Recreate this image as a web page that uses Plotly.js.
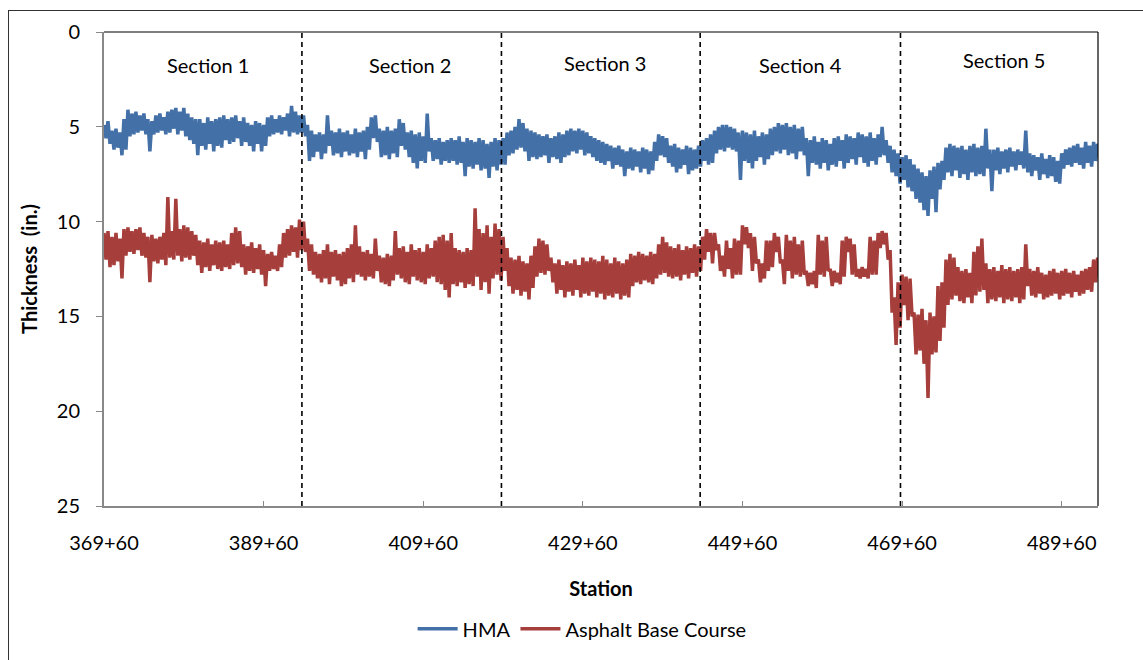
<!DOCTYPE html>
<html>
<head>
<meta charset="utf-8">
<script src="https://cdn.plot.ly/plotly-3.0.1.min.js"></script>
<style>
  html, body { margin: 0; padding: 0; background: #fff; }
  #wrap { position: relative; width: 1143px; height: 660px; overflow: hidden; }
  #chart { width: 1143px; height: 660px; }
  #frame { position: absolute; left: 8px; top: 10px; width: 1200px; height: 700px;
           border: 1.5px solid #333; pointer-events: none; box-sizing: border-box; }
</style>
</head>
<body>
<div id="wrap"><div id="chart"></div><div id="frame"></div></div>
<script>
// Station axis in feet (369+60 = 36960 ft). Each 50-ft step has two readings of
// the dense measured trace: the upper edge (thinner) and the lower edge (thicker).
const startStation = 36960;
const stationStep = 50;

const tickValues = [36960, 38960, 40960, 42960, 44960, 46960, 48960];
const tickLabels = ['369+60', '389+60', '409+60', '429+60', '449+60', '469+60', '489+60'];

const sectionBounds = [39440, 41940, 44430, 46940];
const sectionNames = ['Section 1', 'Section 2', 'Section 3', 'Section 4', 'Section 5'];
const sectionLabelX = [38263, 40794, 43238, 45693, 48237];
const sectionLabelY = [1.72, 1.72, 1.62, 1.72, 1.46];

// HMA thickness (in.)
const hmaUpper = [
  4.9,4.7,5.2,5.1,5.3,4.6,4.1,4.3,4.2,4.4, 4.3,4.6,4.7,4.4,4.3,4.5,4.2,4.1,4.0,4.2,
  4.0,4.3,4.5,4.6,4.6,4.8,4.5,4.7,4.6,4.5, 4.4,4.6,4.5,4.4,4.7,4.5,4.8,4.9,4.7,4.8,
  4.9,4.5,4.4,4.6,4.4,4.5,4.3,3.9,4.2,4.4,
  4.4,4.9,5.2,5.4,5.3,5.4,4.4,5.2,5.3,5.1, 5.3,5.2,5.4,5.1,5.3,5.2,5.0,4.5,4.4,5.1,
  5.2,5.0,5.2,5.1,4.6,4.8,5.3,5.2,5.4,5.3, 5.5,4.3,5.6,5.7,5.6,5.8,5.7,5.6,5.7,5.5,
  5.8,5.6,5.7,5.8,5.6,5.7,5.9,5.8,5.6,5.7,
  5.6,5.3,5.2,5.0,4.6,4.8,5.1,5.2,5.3,5.4, 5.5,5.4,5.6,5.5,5.3,5.4,5.2,5.1,5.2,5.1,
  5.2,5.3,5.5,5.6,5.7,5.8,5.9,6.0,6.1,6.0, 6.2,6.3,6.1,6.2,6.3,6.1,6.2,6.3,5.8,5.4,
  5.5,5.6,6.0,5.9,6.1,6.2,6.0,6.1,6.2,6.0,
  5.7,5.6,5.4,5.2,5.0,4.9,4.9,5.0,5.1,5.3, 5.2,5.3,5.4,5.2,5.5,5.3,5.4,5.1,5.0,4.8,
  4.9,4.8,5.0,4.9,5.1,5.0,5.6,5.7,5.5,5.8, 5.6,5.7,5.9,5.6,5.5,5.7,5.4,5.5,5.6,5.3,
  5.4,5.5,5.3,5.6,5.4,5.0,5.7,6.0,6.2,6.4,
  6.6,6.5,6.7,7.0,7.2,7.4,7.6,7.3,7.1,6.9, 6.8,6.1,5.9,6.0,6.1,6.0,6.2,6.0,5.9,6.1,
  6.0,5.1,6.2,6.2,6.1,6.3,6.2,6.1,6.3,6.2, 6.3,5.2,6.4,6.5,6.6,6.4,6.7,6.5,6.6,6.8,
  6.4,6.2,6.1,6.0,5.9,6.1,5.8,6.0,5.8,5.9
];
const hmaLower = [
  5.6,5.9,6.2,6.1,6.5,6.2,5.5,5.4,5.3,5.2, 5.4,6.3,5.4,5.3,5.2,5.4,5.3,5.1,5.4,5.2,
  5.5,5.7,5.9,6.5,6.0,6.2,5.9,6.3,6.0,6.1, 5.7,5.9,5.8,5.6,6.0,5.8,6.0,6.3,5.9,6.3,
  6.0,5.5,5.4,5.3,5.4,5.2,5.5,5.3,5.4,5.3,
  5.5,6.8,6.6,6.3,6.7,6.4,6.0,6.5,6.4,6.6, 6.3,6.5,6.4,6.6,6.3,6.7,6.2,5.6,5.8,6.6,
  6.5,6.7,6.4,6.6,6.0,6.2,6.6,6.9,7.2,6.8, 6.9,6.3,6.8,6.7,7.0,6.8,6.9,6.8,7.0,6.9,
  7.6,7.1,7.2,7.0,7.3,7.2,7.7,7.1,7.3,7.0,
  7.0,6.5,6.4,6.2,6.1,6.3,6.8,6.6,6.7,6.6, 6.5,6.9,6.6,6.7,6.9,6.6,6.5,6.3,6.4,6.2,
  6.5,6.4,6.6,6.8,6.9,7.0,6.8,7.2,7.0,7.1, 7.6,7.2,7.3,7.1,7.4,7.2,7.5,7.3,6.8,6.5,
  6.6,6.9,7.1,7.4,7.2,7.0,7.5,7.3,7.2,7.1,
  6.8,7.0,6.9,6.4,6.2,6.3,6.1,6.2,6.3,7.8, 6.8,6.9,7.2,6.8,6.6,7.0,6.7,6.5,6.3,6.4,
  6.2,6.5,6.4,6.7,6.3,6.5,7.6,6.9,7.0,7.2, 6.9,7.3,7.0,7.1,6.8,7.2,6.9,6.7,7.0,6.6,
  6.9,7.1,6.8,7.0,6.6,6.5,6.9,7.4,7.6,8.0,
  7.8,8.2,8.4,8.8,9.0,9.4,9.7,8.8,9.5,8.3, 7.8,7.4,7.6,7.3,7.7,7.5,7.8,7.4,7.6,7.5,
  7.6,7.2,8.4,7.3,7.5,7.2,7.4,7.1,7.3,7.0, 7.2,7.4,7.6,7.3,7.8,7.5,7.7,7.6,7.9,8.0,
  7.2,7.0,7.1,6.9,7.0,7.2,6.9,7.1,6.8,6.6
];

// Asphalt Base Course thickness (in.)
const baseUpper = [
  10.6,10.5,10.8,10.6,10.9,10.4,10.3,10.5,10.4,10.3, 10.6,10.8,10.7,10.9,10.8,10.6,8.7,10.5,8.8,10.4,
  10.2,10.3,10.5,10.7,11.0,11.1,10.9,11.2,11.0,11.1, 11.0,11.2,10.6,10.3,10.5,11.2,11.3,11.1,11.4,11.2,
  11.5,11.7,11.6,11.8,11.2,10.6,10.4,10.2,10.3,9.9,
  10.0,10.9,11.2,11.6,11.7,11.5,11.2,11.6,11.5,11.7, 11.6,11.4,11.2,10.2,11.3,11.6,11.5,11.7,10.9,11.8,
  11.9,11.7,11.8,10.5,11.4,11.3,11.6,11.2,11.5,11.4, 11.6,11.2,11.4,11.0,10.8,10.7,11.0,10.6,11.4,11.5,
  11.6,11.4,11.5,9.3,10.4,10.6,10.2,10.8,10.1,10.4,
  10.8,11.4,11.9,12.0,11.8,12.1,12.2,11.8,11.3,10.9, 11.0,11.2,11.9,12.2,12.0,12.3,12.1,12.2,12.0,12.3,
  11.9,12.1,11.9,12.0,12.1,11.8,12.0,12.2,11.9,12.1, 12.2,12.0,11.7,11.8,11.6,11.7,11.8,11.6,11.7,11.2,
  10.8,11.1,11.3,11.4,11.2,11.5,11.3,11.4,11.2,11.3,
  10.8,10.4,10.6,10.6,11.2,11.8,11.0,11.4,10.9,11.0, 10.2,10.3,10.6,10.8,12.0,12.2,11.0,11.0,10.6,10.8,
  12.0,10.7,11.0,10.8,11.2,11.0,12.6,12.7,12.6,10.7, 11.0,10.8,12.5,12.6,12.7,11.0,10.8,10.9,11.2,12.5,
  12.4,12.5,10.8,11.0,10.6,10.5,10.6,11.5,14.0,13.2,
  12.8,12.9,13.0,14.8,14.9,14.6,15.2,14.8,15.0,13.4, 13.2,12.0,11.7,11.9,12.4,12.6,12.5,12.7,11.6,11.3,
  10.9,12.2,12.5,12.4,12.6,12.3,12.5,12.4,12.6,12.5, 12.4,11.2,12.5,12.6,12.4,12.7,12.8,12.6,12.5,12.7,
  12.6,12.5,12.7,12.6,12.8,12.6,12.5,12.4,12.0,11.9
];
const baseLower = [
  12.0,12.4,12.3,12.1,13.0,11.8,11.6,11.7,11.5,11.8, 11.9,13.2,12.1,12.2,12.0,12.3,11.9,12.0,11.8,12.1,
  11.9,12.0,11.8,12.3,12.7,12.4,12.6,12.3,12.5,12.6, 12.4,12.5,12.3,12.2,12.4,12.8,12.6,12.7,12.5,12.8,
  13.4,12.6,12.5,12.6,12.4,11.9,11.8,11.6,11.9,11.5,
  11.6,12.6,12.8,13.0,13.2,13.0,13.3,12.9,13.1,13.4, 13.3,13.0,13.2,12.8,12.9,13.1,12.9,13.0,12.6,13.2,
  13.3,13.4,13.1,12.8,13.0,13.2,13.3,12.9,13.1,13.2, 13.3,13.0,12.9,13.2,13.3,13.6,14.0,13.3,13.4,13.2,
  13.5,13.3,13.4,12.9,13.6,13.2,13.8,13.0,12.8,13.1,
  12.6,13.4,13.8,13.6,13.9,13.7,14.1,13.5,12.9,12.7, 12.8,12.6,13.2,13.8,13.6,14.0,13.7,13.9,13.6,14.0,
  13.8,13.9,13.7,14.0,13.8,14.1,13.9,14.0,13.8,14.1, 13.9,14.0,13.4,13.2,13.3,13.1,13.2,13.3,13.0,12.8,
  12.7,12.9,13.0,12.9,13.1,12.8,13.0,12.7,12.9,12.6,
  12.0,11.6,12.2,11.5,12.6,12.9,12.5,13.0,12.8,12.8, 11.2,11.4,12.6,12.2,13.2,13.0,12.6,12.4,11.6,12.2,
  13.3,12.6,13.0,12.8,12.9,12.8,13.4,13.3,13.5,12.8, 12.9,12.6,13.4,13.2,13.3,12.9,11.6,12.8,12.9,13.0,
  12.9,13.0,12.8,12.8,11.4,11.2,12.0,14.8,16.5,15.6,
  14.4,15.2,15.0,17.0,16.8,17.5,19.3,17.0,16.9,16.3, 15.6,14.4,14.1,13.9,14.2,14.3,14.0,14.3,13.9,13.7,
  13.6,14.3,14.1,14.2,14.0,14.3,14.1,14.2,14.0,14.3, 14.1,13.4,13.9,14.0,13.8,14.1,14.0,13.9,13.8,14.1,
  13.9,13.8,14.0,13.7,13.9,13.8,13.6,13.7,13.2,12.6
];

// Trace the dense record: upper reading at each step, lower reading half a step later
function traceX(upper) {
  return upper.flatMap((_, i) => [startStation + i * stationStep, startStation + i * stationStep + stationStep / 2]);
}
function traceY(upper, lower) {
  return upper.flatMap((v, i) => [v, lower[i]]);
}

const FONT = 'Lato, "Open Sans", sans-serif';

const traces = [
  { x: traceX(hmaUpper), y: traceY(hmaUpper, hmaLower), name: 'HMA', type: 'scatter', mode: 'lines',
    line: { color: '#4470A8', width: 3.5, simplify: false } },
  { x: traceX(baseUpper), y: traceY(baseUpper, baseLower), name: 'Asphalt Base Course', type: 'scatter', mode: 'lines',
    line: { color: '#A63F3C', width: 3.5, simplify: false } }
];

const shapes = sectionBounds.map(b => ({
  type: 'line', xref: 'x', yref: 'paper', x0: b, x1: b, y0: 0, y1: 1,
  line: { color: '#000', width: 1.6, dash: '5px,4px' }
}));
shapes.push({ type: 'line', xref: 'paper', yref: 'paper', x0: 0, x1: 1, y0: 1, y1: 1,
  line: { color: '#000', width: 1.2 } });
shapes.push({ type: 'line', xref: 'paper', yref: 'paper', x0: 1, x1: 1, y0: 0, y1: 1,
  line: { color: '#000', width: 1.2 } });

const annotations = sectionNames.map((s, i) => ({
  text: s, x: sectionLabelX[i], y: sectionLabelY[i], xref: 'x', yref: 'y',
  showarrow: false, font: { family: FONT, size: 20, color: '#000' }
}));

const layout = {
  width: 1143, height: 660,
  margin: { l: 104, r: 45, t: 32, b: 149 },
  paper_bgcolor: '#fff', plot_bgcolor: '#fff',
  font: { family: FONT, size: 20, color: '#000' },
  showlegend: true,
  legend: { orientation: 'h', x: 0.481, xanchor: 'center', y: -0.2589, yanchor: 'middle',
            font: { family: FONT, size: 20, color: '#000' }, itemwidth: 40 },
  xaxis: {
    range: [36960, 49415], tickvals: tickValues, ticktext: tickLabels,
    ticks: 'inside', ticklen: 5, tickcolor: '#888', tickwidth: 1,
    showgrid: false, zeroline: false, showline: true, linecolor: '#888', linewidth: 2,
    ticklabelstandoff: 18,
    tickfont: { family: FONT, size: 20, color: '#000' },
    title: { text: '<b>Station</b>', font: { family: FONT, size: 20, color: '#000' }, standoff: 29 }
  },
  yaxis: {
    range: [25, 0], tickvals: [0, 5, 10, 15, 20, 25],
    ticks: 'outside', ticklen: 6, tickcolor: '#888', tickwidth: 1,
    showgrid: false, zeroline: false, showline: true, linecolor: '#888', linewidth: 2,
    ticklabelstandoff: 12,
    tickfont: { family: FONT, size: 20, color: '#000' },
    title: { text: '<b>Thickness  (in.)</b>', font: { family: FONT, size: 20, color: '#000' }, standoff: 14 }
  },
  shapes: shapes,
  annotations: annotations
};

Plotly.newPlot('chart', traces, layout, { displayModeBar: false, staticPlot: true });
</script>
</body>
</html>
